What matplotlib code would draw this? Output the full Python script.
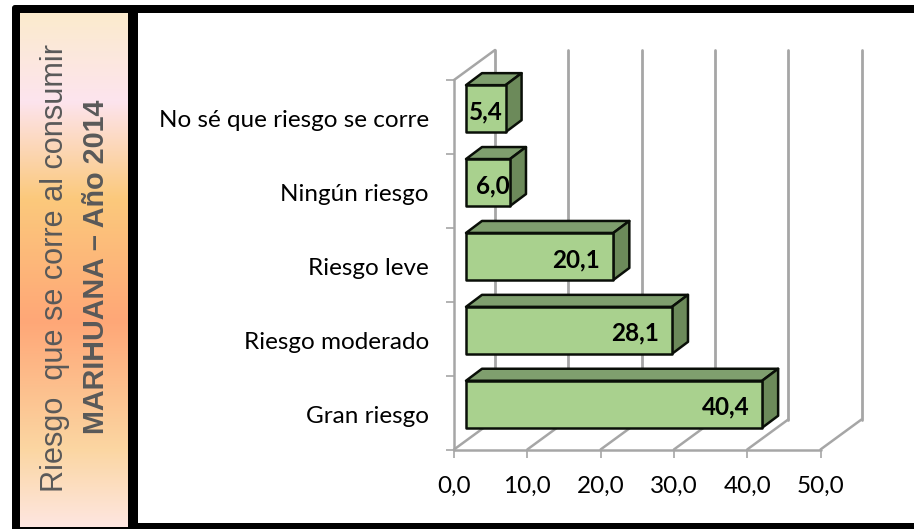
import matplotlib
matplotlib.use("Agg")
import matplotlib.pyplot as plt
import numpy as np
from matplotlib.colors import LinearSegmentedColormap
from matplotlib.patches import Polygon, Rectangle, FancyBboxPatch

categories = ["Gran riesgo", "Riesgo moderado", "Riesgo leve", "Ningún riesgo", "No sé que riesgo se corre"]
values = [40.4, 28.1, 20.1, 6.0, 5.4]
value_labels = ["40,4", "28,1", "20,1", "6,0", "5,4"]
x_ticks = [0, 10, 20, 30, 40, 50]
x_tick_labels = ["0,0", "10,0", "20,0", "30,0", "40,0", "50,0"]
panel_stops = [(0.0, "#FBEBCD"), (0.17, "#FDE4EE"), (0.36, "#FBC97C"), (0.60, "#FFA777"),
               (0.85, "#FBD6A2"), (1.0, "#FEE6E0")]

W, H = 914, 529
fig = plt.figure(figsize=(W / 100, H / 100), dpi=100, facecolor="white")
plt.rcParams["font.family"] = ["Lato", "DejaVu Sans"]

def rect(x0, y0, x1, y1):
    return [x0 / W, 1 - y1 / H, (x1 - x0) / W, (y1 - y0) / H]

# frame
bg = fig.add_axes([0, 0, 1, 1]); bg.set_xlim(0, W); bg.set_ylim(H, 0); bg.axis("off")
bg.add_patch(FancyBboxPatch((12, 5), W + 20, H + 20, boxstyle="round,pad=0,rounding_size=3", fc="black", ec="none"))
bg.add_patch(Rectangle((138, 13), W - 138 + 2, 510, fc="white", ec="none"))

# gradient panel
pa = fig.add_axes(rect(20, 13, 128, 527)); pa.axis("off")
cmap = LinearSegmentedColormap.from_list("panel", panel_stops)
pa.imshow(np.linspace(0, 1, 256)[:, None], aspect="auto", cmap=cmap, vmin=0, vmax=1)
pa.set_zorder(1)
txt = dict(transform=fig.transFigure, rotation=90, va="center", ha="center", color="#595959", zorder=5,
           family="Liberation Sans")
fig.text(55 / W, 1 - 268 / H, "Riesgo  que se corre al consumir", fontsize=22.1, **txt)
fig.text(96 / W, 1 - 267 / H, "MARIHUANA – Año 2014", fontsize=20.7, fontweight="bold", **txt)

# chart axes: data scale maps onto the front plane of the 3D box
ax = fig.add_axes(rect(454, 80, 820.5, 449.5))
ax.set_xlim(0, 50); ax.set_ylim(0, 5); ax.set_zorder(2)
ax.patch.set_alpha(0)
for s in ax.spines.values():
    s.set_visible(False)
ux = 366.5 / 50  # px per x unit
uy = 369.5 / 5   # px per band
DX, DY = 41 / ux, 30 / uy  # box depth in data units
grid = "#A6A6A6"
line = dict(color=grid, clip_on=False, zorder=1, solid_capstyle="round")
for t in x_ticks:
    ax.plot([t + DX, t + DX], [DY, 5 + DY], lw=2.0, **line)
    ax.plot([t, t + DX], [0, DY], lw=1.8, **line)
ax.plot([0, DX], [5, 5 + DY], lw=1.8, **line)
ax.plot([0, 0], [0, 5], lw=1.8, **line)
ax.plot([0, 50], [0, 0], lw=1.8, **line)

# bars
bh = 47 / uy
sx, sy = 12 / ux, 8.3 / uy     # front-face shift
bx, by = 16 / ux, 12 / uy      # bar depth
front, top_c, side_c = "#A9D18E", "#7F9F6E", "#6C8A5A"
label_shift = [-13, -13, -13, 0, -3]  # px from bar end
for i, (v, lab) in enumerate(zip(values, value_labels)):
    y0 = i + 0.5 - bh / 2 + sy
    y1 = y0 + bh
    x0, x1 = sx, v + sx
    kw = dict(ec="#0A0F08", lw=1.8, joinstyle="round", clip_on=False, zorder=3)
    ax.add_patch(Polygon([(x0, y1), (x1, y1), (x1 + bx, y1 + by), (x0 + bx, y1 + by)], fc=top_c, **kw))
    ax.add_patch(Polygon([(x1, y0), (x1 + bx, y0 + by), (x1 + bx, y1 + by), (x1, y1)], fc=side_c, **kw))
    ax.add_patch(Polygon([(x0, y0), (x1, y0), (x1, y1), (x0, y1)], fc=front, **kw))
    ax.annotate(lab, (x1, (y0 + y1) / 2), xytext=(label_shift[i], -3), textcoords="offset pixels",
                ha="right", va="center", fontsize=17.5, fontweight="bold", color="black",
                zorder=4, annotation_clip=False)

ax.set_xticks(x_ticks, x_tick_labels, fontsize=17.5, color="black")
ax.set_yticks(np.arange(0, 6))
ax.set_yticklabels([])
ax.tick_params(axis="x", length=6, width=1.2, color=grid, pad=13)
ax.tick_params(axis="y", length=6, width=1.2, color=grid, pad=0)
for i, c in enumerate(categories):
    ax.annotate(c, (0, i + 0.5), xytext=(-25, -4), textcoords="offset pixels", ha="right", va="center",
                fontsize=17.5, color="black", annotation_clip=False)

fig.savefig("out.png", dpi=100)
